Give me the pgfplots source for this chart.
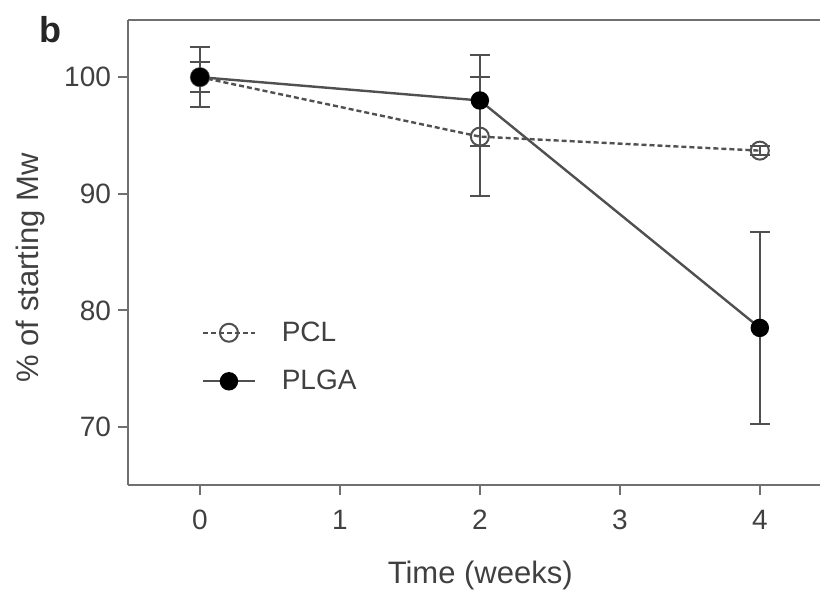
\documentclass[border=0pt]{standalone}
\usepackage{pgfplots}
\pgfplotsset{compat=1.18}
\usepackage{fontspec}
\setmainfont{Liberation Sans}
\setsansfont{Liberation Sans}
\definecolor{txt}{HTML}{404040}
\definecolor{ln}{HTML}{505050}
\definecolor{ax}{HTML}{707070}

\begin{document}
\begin{tikzpicture}
\begin{axis}[
  at={(64pt,52.5pt)}, anchor=south west,
  scale only axis, width=346pt, height=232.5pt,
  xmin=-0.514, xmax=4.43, ymin=65.03, ymax=104.9,
  axis x line*=box, axis y line*=left,
  axis line style={ax, line width=1pt},
  xtick={0,1,2,3,4}, ytick={70,80,90,100},
  xtick pos=bottom, ytick pos=left,
  tick align=outside, major tick length=5pt,
  tick style={ax, line width=1pt},
  /pgf/number format/assume math mode=true,
  ticklabel style={font=\fontsize{14}{16}\selectfont, text=txt},
  xticklabel style={yshift=-4pt},
  xlabel={Time (weeks)}, ylabel={\% of starting Mw},
  label style={font=\fontsize{15.5}{18}\selectfont, text=txt},
  xlabel style={at={(axis description cs:0.509,-0.194)}, anchor=center},
  ylabel style={at={(axis description cs:-0.1416,0.467)}, anchor=center},
  legend style={at={(axis cs:-0.03,79.6)}, anchor=north west, draw=none, fill=none,
    font=\fontsize{14}{16}\selectfont, text=txt, row sep=11pt, column sep=12pt,
    nodes={inner sep=1pt}},
  legend cell align=left,
  legend image code/.code={\draw[mark repeat=2,mark phase=2] plot coordinates {(0cm,0cm) (0.45cm,0cm) (0.9cm,0cm)};},
  clip=false,
]
% PCL
\addplot[ln, line width=1.2pt, dash pattern=on 2.5pt off 1.5pt,
  mark=o, mark size=4.5pt, mark options={solid, fill=white, line width=1pt},
  error bars/.cd, y dir=both, y explicit,
  error bar style={solid, line width=1pt, ln},
  error mark options={rotate=90, mark size=5pt, line width=1pt, ln}]
coordinates {
  (0,100) +- (0,2.6)
  (2,94.9) +- (0,5.1)
  (4,93.7) +- (0,0.4)
};
\addlegendentry{PCL}
% PLGA
\addplot[ln, line width=1.2pt,
  mark=*, mark size=4pt, mark options={fill=black, draw=black},
  error bars/.cd, y dir=both, y explicit,
  error bar style={line width=1pt, ln},
  error mark options={rotate=90, mark size=5pt, line width=1pt, ln}]
coordinates {
  (0,100) +- (0,1.3)
  (2,98.0) +- (0,3.9)
  (4,78.5) +- (0,8.2)
};
\addlegendentry{PLGA}
\end{axis}
\node[anchor=center, font=\bfseries\fontsize{18}{20}\selectfont, text=black!85] at (25pt,280pt) {b};
\pgfresetboundingbox
\useasboundingbox (0,0) rectangle (410pt,295pt);
\end{tikzpicture}
\end{document}
